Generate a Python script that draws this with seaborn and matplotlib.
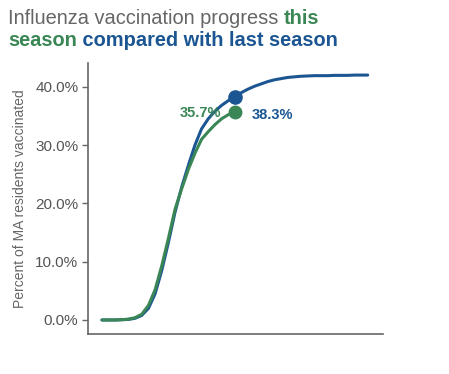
import pandas as pd
import matplotlib.pyplot as plt
import seaborn as sns

# Weekly cumulative percent of MA residents vaccinated
weeks_last = list(range(41))
last_season = [0.0, 0.0, 0.0, 0.05, 0.1, 0.3, 0.8, 2.0, 4.5, 8.5,
               13.3, 18.5, 22.8, 26.5, 30.0, 32.8, 34.5, 35.8, 36.8, 37.6,
               38.3, 39.0, 39.6, 40.1, 40.5, 40.9, 41.2, 41.4, 41.6, 41.7,
               41.8, 41.85, 41.9, 41.9, 41.9, 41.95, 41.95, 41.95, 42.0, 42.0,
               42.0]
weeks_this = list(range(21))
this_season = [0.0, 0.0, 0.0, 0.05, 0.15, 0.4, 1.0, 2.5, 5.2, 9.3,
               14.0, 19.0, 22.5, 25.8, 28.6, 31.0, 32.3, 33.5, 34.5, 35.2,
               35.7]
series_names = ["Last season", "This season"]

blue = "#1b5693"
green = "#3a8755"
grey = "#666666"

df = pd.concat([
    pd.DataFrame({"week": weeks_last, "pct": last_season, "season": series_names[0]}),
    pd.DataFrame({"week": weeks_this, "pct": this_season, "season": series_names[1]}),
])

sns.set_style("white")
plt.rcParams["font.family"] = ["Liberation Sans", "DejaVu Sans"]

fig = plt.figure(figsize=(4.49, 3.74), dpi=100)
ax = fig.add_axes([0.196, 0.107, 0.657, 0.725])

sns.lineplot(data=df, x="week", y="pct", hue="season",
             palette={series_names[0]: blue, series_names[1]: green},
             linewidth=2.2, legend=False, ax=ax)

# end-point dots and labels
ax.plot(weeks_last[20], last_season[20], "o", color=blue, markersize=9.5, zorder=5)
ax.plot(weeks_this[-1], this_season[-1], "o", color=green, markersize=9, zorder=5)
ax.annotate(f"{this_season[-1]:.1f}%", (weeks_this[-1], this_season[-1]),
            xytext=(-10, -1), textcoords="offset points", ha="right", va="center",
            color=green, fontsize=10.5, fontweight="bold")
ax.annotate(f"{last_season[20]:.1f}%", (weeks_this[-1], this_season[-1]),
            xytext=(12, -2), textcoords="offset points", ha="left", va="center",
            color=blue, fontsize=10.5, fontweight="bold")

ax.set_xlim(-2.1, 42.3)
ax.set_ylim(-2.4, 44.1)
ax.set_xticks([])
ax.set_yticks([0, 10, 20, 30, 40])
ax.set_yticklabels([f"{v:.1f}%" for v in [0, 10, 20, 30, 40]])
ax.tick_params(axis="y", length=4, width=1, color="#666666", colors="#555555",
               labelsize=11, left=True, pad=3)
ax.set_xlabel("")
ax.set_ylabel("Percent of MA residents vaccinated", color=grey, fontsize=10, labelpad=6)
sns.despine(ax=ax)
for s in ["left", "bottom"]:
    ax.spines[s].set_color("#666666")
    ax.spines[s].set_linewidth(1.2)

# multi-coloured title
pieces = [
    [("Influenza vaccination progress ", grey, "normal"), ("this", green, "bold")],
    [("season", green, "bold"), (" compared with last season", blue, "bold")],
]
renderer = fig.canvas.get_renderer()
y_px = [374 - 19, 374 - 41]
for line, yp in zip(pieces, y_px):
    x_px = 8
    for txt, col, wt in line:
        t = fig.text(x_px / 449, yp / 374, txt, color=col, fontweight=wt,
                     fontsize=14.4, va="center", ha="left")
        x_px += t.get_window_extent(renderer).width

fig.savefig("out.png", dpi=100)
